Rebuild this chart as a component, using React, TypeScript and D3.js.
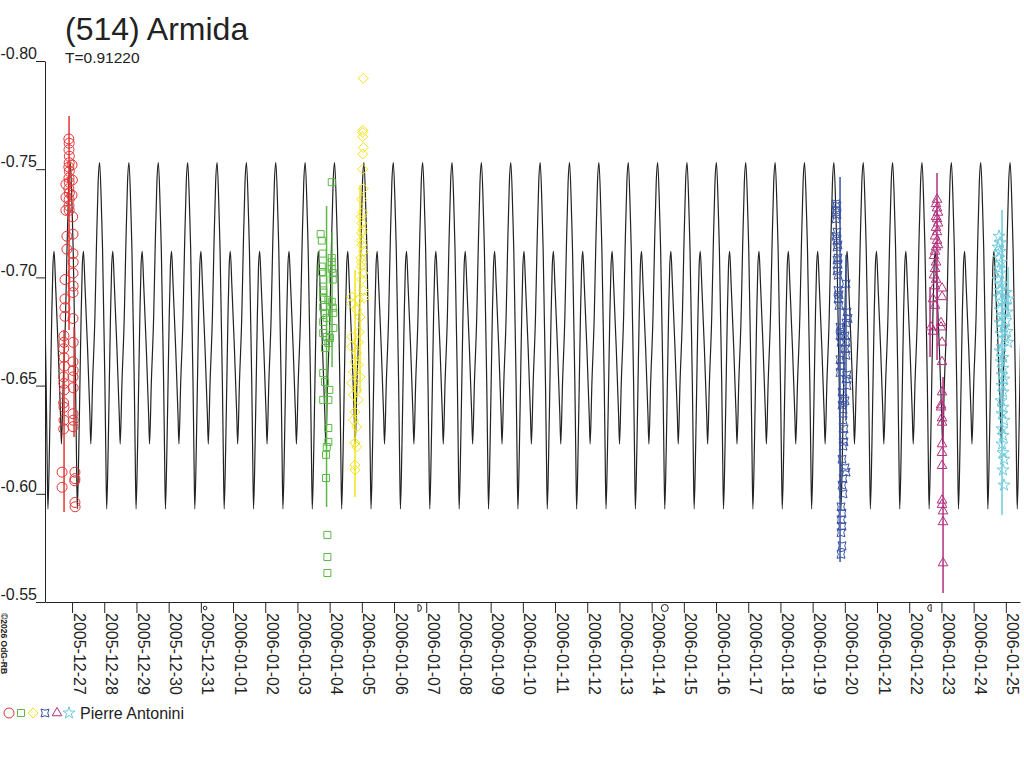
import { useRef, useEffect } from 'react';
import * as d3 from 'd3';

const title = '(514) Armida';
const periodLabel = 'T=0.91220';
const observer = 'Pierre Antonini';
const credit = '©2026 OdG-RB';

// rotation period (days) and time of a main maximum (days after 2005-12-27 0h UT)
const period = 0.9122;
const epoch = -0.056;

const yTicks = [-0.8, -0.75, -0.7, -0.65, -0.6, -0.55];

// one cycle of the fitted lightcurve
const cyclePhase = [0, 0.07, 0.1, 0.14, 0.18, 0.21, 0.24, 0.29, 0.33, 0.37, 0.41, 0.45, 0.5, 0.59, 0.67, 0.7, 0.76, 0.84, 0.89, 0.95];
const cycleMag = [-0.753, -0.728, -0.713, -0.682, -0.651, -0.62, -0.593, -0.62, -0.651, -0.682, -0.705, -0.712, -0.697, -0.667, -0.636, -0.623, -0.651, -0.682, -0.713, -0.744];

// sessions: [day after 2005-12-27 0h UT, relative magnitude]
const s1: [number, number][] = [
  [-0.1, -0.764], [-0.09, -0.762], [-0.095, -0.759], [-0.085, -0.756], [-0.09, -0.753], [-0.1, -0.751], [-0.085, -0.749],
  [-0.095, -0.746], [-0.09, -0.744], [-0.1, -0.741], [-0.085, -0.739], [-0.09, -0.736], [-0.095, -0.733], [-0.09, -0.731],
  [0.0, -0.752], [0.01, -0.745], [0.0, -0.738], [0.02, -0.728],
  [-0.19, -0.743], [-0.19, -0.737], [-0.19, -0.731], [-0.16, -0.719], [-0.16, -0.713],
  [0.03, -0.72], [0.03, -0.711], [0.035, -0.707], [0.03, -0.702], [0.035, -0.696], [0.03, -0.693],
  [-0.22, -0.699], [-0.22, -0.69], [-0.22, -0.686], [-0.22, -0.682],
  [0.03, -0.681], [0.035, -0.67], [0.03, -0.661], [0.035, -0.657], [0.03, -0.654], [0.035, -0.649],
  [-0.25, -0.673], [-0.25, -0.67], [-0.26, -0.667], [-0.25, -0.663], [-0.24, -0.659], [-0.26, -0.654], [-0.25, -0.651],
  [-0.24, -0.648], [-0.26, -0.642], [-0.25, -0.64], [-0.25, -0.634], [-0.26, -0.63],
  [0.03, -0.637], [0.035, -0.634], [0.03, -0.631],
  [-0.31, -0.61], [-0.31, -0.603],
  [0.09, -0.61], [0.09, -0.607], [0.085, -0.606], [0.09, -0.596], [0.095, -0.594],
];
const s2: [number, number][] = [
  [8.065, -0.744], [7.72, -0.72], [7.755, -0.717], [7.786, -0.711], [8.065, -0.709], [8.065, -0.707], [8.065, -0.704],
  [7.755, -0.705], [7.755, -0.7025], [8.096, -0.702], [8.096, -0.699], [7.8, -0.699], [7.8, -0.694], [7.8, -0.693],
  [7.8, -0.6905], [7.96, -0.6896], [8.065, -0.6887], [8.096, -0.686], [8.115, -0.6836], [7.8, -0.6863], [7.857, -0.6836],
  [7.91, -0.6813], [7.8, -0.6794], [8.115, -0.6766], [7.8, -0.6743], [7.91, -0.6725], [8.01, -0.672], [7.96, -0.6697],
  [7.857, -0.6674], [7.8, -0.6558], [7.857, -0.6517], [7.99, -0.648], [7.96, -0.6434], [7.8, -0.6434], [7.96, -0.6304],
  [7.96, -0.624], [7.91, -0.6216], [7.888, -0.618], [7.888, -0.6073], [7.93, -0.581], [7.93, -0.5708], [7.93, -0.5634],
];
const s3: [number, number][] = [
  [9.047, -0.792], [9.028, -0.768], [9.028, -0.767], [9.028, -0.765], [9.047, -0.76], [9.028, -0.757], [9.028, -0.75],
  [9.047, -0.741], [9.0, -0.736], [9.03, -0.73], [8.98, -0.728], [9.0, -0.725], [9.03, -0.722], [8.99, -0.7205],
  [8.98, -0.717], [9.0, -0.715], [9.05, -0.712], [8.97, -0.709], [8.99, -0.707], [8.98, -0.705], [9.04, -0.702],
  [9.0, -0.699], [9.05, -0.694], [8.686, -0.691], [8.686, -0.688], [8.891, -0.6896], [9.068, -0.6905], [8.842, -0.685],
  [8.944, -0.6817], [8.686, -0.6725], [8.922, -0.6748], [8.891, -0.67], [8.686, -0.668], [8.842, -0.665], [8.789, -0.661],
  [8.891, -0.6596], [8.736, -0.6563], [8.944, -0.654], [8.686, -0.6512], [8.842, -0.648], [8.736, -0.6457], [8.891, -0.6434],
  [8.789, -0.6378], [8.736, -0.6341], [8.842, -0.6309], [8.789, -0.6235], [8.842, -0.6217], [8.789, -0.6133], [8.789, -0.611],
];
const s4: [number, number][] = [
  [23.727, -0.734], [23.758, -0.733], [23.727, -0.731], [23.758, -0.729], [23.727, -0.727], [23.758, -0.721], [23.727, -0.719],
  [23.758, -0.717], [23.789, -0.715], [23.758, -0.714], [23.789, -0.709], [23.758, -0.708], [23.789, -0.706], [23.758, -0.703],
  [23.789, -0.701], [24.037, -0.697], [23.789, -0.694], [23.82, -0.692], [23.789, -0.69], [23.82, -0.687], [24.068, -0.684],
  [24.099, -0.681], [24.037, -0.679], [23.851, -0.677], [23.882, -0.675], [23.851, -0.673], [24.006, -0.673], [24.037, -0.67],
  [23.882, -0.67], [24.006, -0.667], [24.037, -0.664], [23.851, -0.662], [23.882, -0.659], [23.851, -0.656], [24.068, -0.655],
  [24.037, -0.653], [24.068, -0.65], [23.913, -0.647], [23.944, -0.644], [24.006, -0.643], [23.913, -0.641], [23.944, -0.639],
  [23.944, -0.634], [23.975, -0.63], [23.944, -0.627], [23.975, -0.624], [23.944, -0.622], [24.006, -0.612], [24.037, -0.61],
  [23.913, -0.616], [23.944, -0.607], [23.913, -0.604], [23.944, -0.6], [23.882, -0.594], [23.913, -0.591], [23.882, -0.588],
  [23.913, -0.585], [23.882, -0.582], [23.913, -0.576], [23.882, -0.572],
];
const s5: [number, number][] = [
  [26.863, -0.736], [26.832, -0.734], [26.863, -0.732], [26.894, -0.73], [26.832, -0.728], [26.863, -0.727], [26.894, -0.725],
  [26.832, -0.723], [26.863, -0.721], [26.801, -0.719], [26.863, -0.717], [26.894, -0.715], [26.832, -0.714], [26.801, -0.712],
  [26.77, -0.71], [26.832, -0.707], [26.801, -0.704], [26.77, -0.701], [26.832, -0.699], [26.801, -0.696], [27.019, -0.695],
  [27.019, -0.691], [26.739, -0.69], [26.801, -0.687], [26.677, -0.677], [26.739, -0.675], [26.988, -0.679], [26.988, -0.677],
  [27.019, -0.67], [27.019, -0.661], [27.019, -0.647], [26.988, -0.641], [26.988, -0.64], [27.019, -0.635], [27.019, -0.633],
  [27.019, -0.623], [27.019, -0.619], [27.019, -0.613], [27.019, -0.597], [27.019, -0.595], [27.05, -0.592], [27.05, -0.587],
  [27.05, -0.568],
];
const s6: [number, number][] = [
  [28.789, -0.719], [28.82, -0.716], [28.758, -0.714], [28.82, -0.712], [28.789, -0.709], [28.851, -0.707], [28.789, -0.704],
  [28.82, -0.702], [28.758, -0.699], [28.851, -0.697], [28.82, -0.694], [29.006, -0.693], [28.789, -0.691], [29.068, -0.69],
  [28.851, -0.689], [28.975, -0.687], [28.82, -0.685], [29.037, -0.684], [28.882, -0.682], [29.006, -0.68], [28.82, -0.679],
  [28.944, -0.677], [29.037, -0.675], [28.851, -0.674], [28.975, -0.672], [29.068, -0.67], [28.882, -0.668], [28.82, -0.666],
  [28.913, -0.663], [28.851, -0.661], [28.913, -0.658], [28.882, -0.655], [28.944, -0.653], [28.882, -0.65], [28.913, -0.647],
  [28.851, -0.643], [28.913, -0.64], [28.882, -0.637], [28.944, -0.634], [28.882, -0.63], [28.913, -0.627], [28.882, -0.623],
  [28.913, -0.619], [28.944, -0.616], [28.913, -0.611], [28.944, -0.604],
];

// vertical bars of each session: [day, top magnitude, bottom magnitude]
const s1Bars: [number, number, number][] = [[-0.093, -0.7746, -0.6757], [0.062, -0.6771, -0.6263], [-0.248, -0.6757, -0.5916]];
const s2Bars: [number, number, number][] = [[7.904, -0.733, -0.5939], [8.075, -0.721, -0.6586]];
const s3Bars: [number, number, number][] = [[8.944, -0.7427, -0.6466], [8.789, -0.7034, -0.5985]];
const s4Bars: [number, number, number][] = [[23.851, -0.7464, -0.5685], [24.037, -0.7104, -0.6341]];
const s5Bars: [number, number, number][] = [[26.863, -0.7482, -0.6618], [27.05, -0.654, -0.5542], [26.646, -0.6956, -0.6632]];
const s6Bars: [number, number, number][] = [[28.882, -0.7311, -0.5902], [29.068, -0.7048, -0.6817]];

const sessionColors = ['#e63434', '#5cb946', '#f3e41c', '#3a54a4', '#b3307e', '#6ccbdc'];
const sessionShapes = ['circle', 'square', 'diamond', 'bowtie', 'triangle', 'star'];

// moon phases (days after 2005-12-27 0h UT)
const moonDays = [4.133, 10.789, 18.408, 26.635];
const moonKinds = ['new', 'first', 'full', 'last'];

const t0 = Date.UTC(2005, 11, 27);
const toDate = (d: number) => new Date(t0 + d * 864e5);

const FONT = "'Liberation Sans', Arial, Helvetica, sans-serif";
const INK = '#222';

const shapePaths: Record<string, string> = {
  circle: d3.symbol(d3.symbolCircle, 78)() as string,
  square: d3.symbol(d3.symbolSquare, 49)() as string,
  diamond: 'M0,-5L5,0L0,5L-5,0Z',
  bowtie: 'M-4,-4Q0,-1.5 4,-4Q1.5,0 4,4Q0,1.5 -4,4Q-1.5,0 -4,-4Z',
  triangle: d3.symbol(d3.symbolTriangle, 40)() as string,
  star: d3.symbol(d3.symbolStar, 45)() as string,
};

const moonPaths: Record<string, string> = {
  new: 'M1.8,0A1.8,1.8 0 1 1 -1.8,0A1.8,1.8 0 1 1 1.8,0Z',
  first: 'M-1.5,-3.5V3.5M-1.5,-3.5A3.5,3.5 0 0 1 -1.5,3.5',
  full: 'M3.5,0A3.5,3.5 0 1 1 -3.5,0A3.5,3.5 0 1 1 3.5,0Z',
  last: 'M1.5,-3.5V3.5M1.5,-3.5A3.5,3.5 0 0 0 1.5,3.5',
};

export default function App() {
  const svgRef = useRef<SVGSVGElement>(null);

  useEffect(() => {
    if (!svgRef.current) return;
    const svg = d3.select(svgRef.current);
    svg.selectAll('*').remove();

    const x = d3.scaleUtc().domain([toDate(-0.84), toDate(29.44)]).range([45, 1020]);
    const y = d3.scaleLinear().domain([-0.8, -0.55]).range([61, 602]);

    // clip for the model curve
    svg.append('defs').append('clipPath').attr('id', 'plot-clip')
      .append('rect').attr('x', 45).attr('y', 0).attr('width', 975).attr('height', 768);

    // Y axis (plain hyphen minus, as in the original)
    const yAxis = svg.append('g')
      .attr('transform', 'translate(45,0)')
      .call(d3.axisLeft(y).tickValues(yTicks).tickFormat((d: any) => d.toFixed(2)).tickSize(9).tickSizeOuter(0))
      .attr('font-family', FONT)
      .attr('font-size', 16);
    yAxis.selectAll('.domain, .tick line').attr('stroke', INK);
    yAxis.selectAll('.tick text').attr('x', -8).attr('dy', '-0.15em').attr('fill', INK);

    // X axis
    const xAxis = svg.append('g')
      .attr('transform', `translate(0,${y(-0.55)})`)
      .call(d3.axisBottom(x)
        .ticks(d3.utcDay.every(1) as any)
        .tickFormat(d3.utcFormat('%Y-%m-%d') as any)
        .tickSize(11)
        .tickSizeOuter(0))
      .attr('font-family', FONT)
      .attr('font-size', 16);
    xAxis.selectAll('.domain, .tick line').attr('stroke', INK);
    xAxis.selectAll('.tick text')
      .attr('transform', 'rotate(90)')
      .attr('x', 11)
      .attr('y', -1)
      .attr('dy', '0')
      .style('text-anchor', 'start')
      .attr('fill', INK);

    // moon phase marks
    svg.append('g').selectAll('path')
      .data(moonDays)
      .enter()
      .append('path')
      .attr('transform', (d) => `translate(${x(toDate(d))},608)`)
      .attr('d', (_, i) => moonPaths[moonKinds[i]])
      .attr('fill', 'none')
      .attr('stroke', INK)
      .attr('stroke-width', 1);

    // model lightcurve, repeated every rotation
    const curvePts: [number, number][] = [];
    for (let n = -2; n <= 34; n++) {
      cyclePhase.forEach((p, i) => curvePts.push([epoch + (n + p) * period, cycleMag[i]]));
    }
    const line = d3.line<[number, number]>()
      .x((d) => x(toDate(d[0])))
      .y((d) => y(d[1]))
      .curve(d3.curveMonotoneX);
    svg.append('path')
      .datum(curvePts)
      .attr('clip-path', 'url(#plot-clip)')
      .attr('fill', 'none')
      .attr('stroke', INK)
      .attr('stroke-width', 1.2)
      .attr('d', line);

    // observing sessions
    const sessions = [
      { pts: s1, bars: s1Bars },
      { pts: s2, bars: s2Bars },
      { pts: s3, bars: s3Bars },
      { pts: s4, bars: s4Bars },
      { pts: s5, bars: s5Bars },
      { pts: s6, bars: s6Bars },
    ];
    sessions.forEach((s, i) => {
      const g = svg.append('g');
      const color = sessionColors[i];
      g.selectAll('line')
        .data(s.bars)
        .enter()
        .append('line')
        .attr('x1', (d) => x(toDate(d[0])))
        .attr('x2', (d) => x(toDate(d[0])))
        .attr('y1', (d) => y(d[1]))
        .attr('y2', (d) => y(d[2]))
        .attr('stroke', color)
        .attr('stroke-width', 1.5);
      g.selectAll('path')
        .data(s.pts)
        .enter()
        .append('path')
        .attr('transform', (d) => `translate(${x(toDate(d[0]))},${y(d[1])})`)
        .attr('d', shapePaths[sessionShapes[i]])
        .attr('fill', 'none')
        .attr('stroke', color)
        .attr('stroke-width', 1);
    });

    // title
    svg.append('text')
      .attr('x', 65).attr('y', 40)
      .attr('font-family', FONT).attr('font-size', 32).attr('fill', INK)
      .text(title);
    svg.append('text')
      .attr('x', 65).attr('y', 63)
      .attr('font-family', FONT).attr('font-size', 15.5).attr('fill', INK)
      .text(periodLabel);

    // legend
    const legend = svg.append('g').attr('transform', 'translate(0,713)');
    legend.selectAll('path')
      .data(sessionShapes)
      .enter()
      .append('path')
      .attr('transform', (_, i) => `translate(${9 + i * 12},0)`)
      .attr('d', (d) => shapePaths[d])
      .attr('fill', 'none')
      .attr('stroke', (_, i) => sessionColors[i])
      .attr('stroke-width', 1);
    legend.append('text')
      .attr('x', 80).attr('y', 6)
      .attr('font-family', FONT).attr('font-size', 16).attr('fill', INK)
      .text(observer);

    // credit
    svg.append('text')
      .attr('transform', 'translate(1,613) rotate(90)')
      .attr('font-family', FONT).attr('font-size', 8.5).attr('font-weight', 'bold').attr('fill', INK)
      .text(credit);
  }, []);

  return (
    <svg
      ref={svgRef}
      width={1024}
      height={768}
      style={{ position: 'absolute', left: 0, top: 0, background: '#fff' }}
    />
  );
}
